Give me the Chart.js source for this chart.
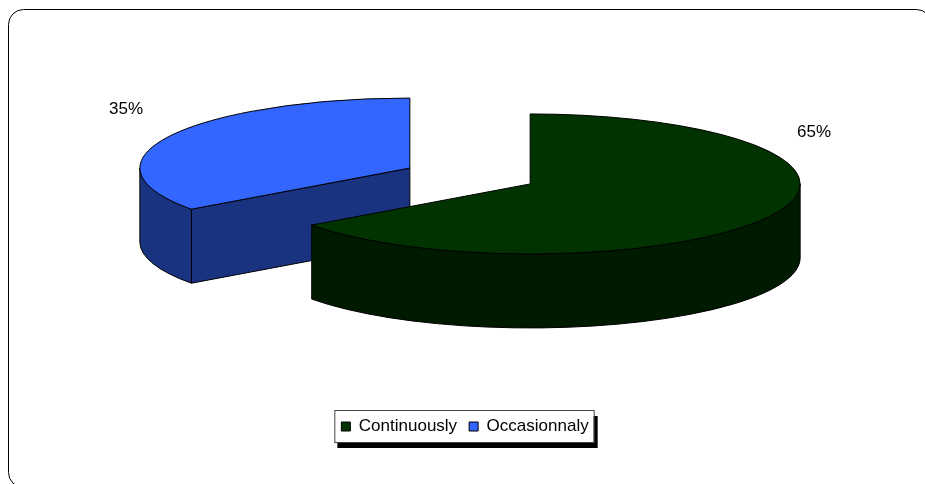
<!DOCTYPE html>
<html>
<head>
<meta charset="utf-8">
<title>Continuously / Occasionnaly</title>
<script src="https://cdn.jsdelivr.net/npm/chart.js@4.4.0/dist/chart.umd.min.js"></script>
<style>
    html, body { margin: 0; padding: 0; background: #fff; }
    #wrap { position: relative; width: 925px; height: 484px; }
</style>
</head>
<body>
<div id="wrap"><canvas id="pieChart"></canvas></div>
<script>
// Chart data
const categories = ['Continuously', 'Occasionnaly'];
const shares = [65, 35];
const topColors = ['#003300', '#3366FF'];
const sideColors = ['#001A00', '#1A3380'];

const FONT = '"Liberation Sans", Arial, sans-serif';

// Angles of the front half of the disc (the part of the rim we can see)
function frontRanges(a0, a1) {
    const out = [];
    [-2, 0, 2].forEach(k => {
        const lo = Math.max(a0, k * Math.PI);
        const hi = Math.min(a1, k * Math.PI + Math.PI);
        if (hi > lo) out.push([lo, hi]);
    });
    return out;
}

// Draws the exploded pie as a tilted 3D disc, using the arcs Chart.js laid out
const pie3d = {
    id: 'pie3d',
    beforeDatasetsDraw(chart, args, opts) {
        const ctx = chart.ctx;
        const meta = chart.getDatasetMeta(0);
        const values = chart.data.datasets[0].data;
        const total = values.reduce((a, b) => a + b, 0);
        const { rx, ry, depth } = opts;

        const slices = meta.data.map((arc, i) => {
            const p = arc.getProps(['x', 'y', 'startAngle', 'endAngle', 'outerRadius']);
            const mid = (p.startAngle + p.endAngle) / 2;
            const off = (arc.options.offset || 0) / 4;
            return {
                i: i,
                mid: mid,
                a0: p.startAngle,
                a1: p.endAngle,
                cx: p.x + opts.shiftX + Math.cos(mid) * off * rx / p.outerRadius,
                cy: p.y + opts.shiftY + Math.sin(mid) * off * ry / p.outerRadius
            };
        });

        const pt = (s, t, dz) => [s.cx + rx * Math.cos(t), s.cy + ry * Math.sin(t) + dz];

        function face(s, t) {
            const p = pt(s, t, 0);
            ctx.beginPath();
            ctx.moveTo(s.cx, s.cy);
            ctx.lineTo(p[0], p[1]);
            ctx.lineTo(p[0], p[1] + depth);
            ctx.lineTo(s.cx, s.cy + depth);
            ctx.closePath();
            ctx.fillStyle = sideColors[s.i];
            ctx.fill();
            ctx.stroke();
        }

        function wall(s, lo, hi) {
            const e = pt(s, hi, depth);
            ctx.beginPath();
            ctx.ellipse(s.cx, s.cy, rx, ry, 0, lo, hi);
            ctx.lineTo(e[0], e[1]);
            ctx.ellipse(s.cx, s.cy + depth, rx, ry, 0, hi, lo, true);
            ctx.closePath();
            ctx.fillStyle = sideColors[s.i];
            ctx.fill();
            ctx.stroke();
        }

        function lid(s) {
            ctx.beginPath();
            ctx.moveTo(s.cx, s.cy);
            ctx.ellipse(s.cx, s.cy, rx, ry, 0, s.a0, s.a1);
            ctx.closePath();
            ctx.fillStyle = topColors[s.i];
            ctx.fill();
            ctx.stroke();
        }

        ctx.save();
        ctx.lineWidth = 1;
        ctx.strokeStyle = '#000';
        ctx.lineJoin = 'round';

        // back slices first
        [...slices].sort((a, b) => a.cy - b.cy).forEach(s => {
            if (Math.cos(s.a0) < -1e-6) face(s, s.a0);
            if (Math.cos(s.a1) > 1e-6) face(s, s.a1);
            frontRanges(s.a0, s.a1).forEach(r => wall(s, r[0], r[1]));
            lid(s);
        });

        // percentage labels
        ctx.fillStyle = '#000';
        ctx.font = '17px ' + FONT;
        ctx.textAlign = 'center';
        ctx.textBaseline = 'middle';
        slices.forEach(s => {
            const pct = Math.round(values[s.i] / total * 100) + '%';
            const x = s.cx + Math.cos(s.mid) * rx * 1.18;
            const y = s.cy - ry * 0.79 + Math.sin(s.mid) * ry * 0.11;
            ctx.fillText(pct, x, y);
        });
        ctx.restore();
        return false;
    }
};

// Outer frame and the framed legend box with its drop shadow
const frames = {
    id: 'frames',
    beforeDraw(chart) {
        const ctx = chart.ctx;
        ctx.save();
        ctx.strokeStyle = '#000';
        ctx.lineWidth = 1;
        ctx.beginPath();
        ctx.roundRect(8.5, 9.5, 923, 478, 15);
        ctx.stroke();

        const boxes = chart.legend.legendHitBoxes;
        if (boxes && boxes.length) {
            const left = Math.min(...boxes.map(b => b.left)) - 7;
            const right = Math.max(...boxes.map(b => b.left + b.width)) + 5;
            const top = boxes[0].top - 8;
            const bottom = boxes[0].top + boxes[0].height + 7;
            ctx.fillStyle = '#000';
            ctx.fillRect(left + 3, top + 6, right - left + 1, bottom - top);
            ctx.fillStyle = '#fff';
            ctx.fillRect(left, top, right - left, bottom - top);
            ctx.strokeStyle = '#444';
            ctx.strokeRect(left + 0.5, top + 0.5, right - left, bottom - top);
        }
        ctx.restore();
    }
};

new Chart(document.getElementById('pieChart'), {
    type: 'pie',
    data: {
        labels: categories,
        datasets: [{
            data: shares,
            backgroundColor: topColors,
            borderColor: '#000',
            borderWidth: 1,
            radius: 100,
            offset: 100
        }]
    },
    options: {
        responsive: true,
        maintainAspectRatio: false,
        animation: false,
        devicePixelRatio: 1,
        layout: {
            padding: { left: 5, right: 0, top: 0, bottom: 39 }
        },
        plugins: {
            tooltip: { enabled: false },
            legend: {
                position: 'bottom',
                labels: {
                    boxWidth: 9,
                    boxHeight: 9,
                    padding: 12,
                    color: '#000',
                    font: { size: 17, family: FONT }
                }
            },
            pie3d: { rx: 270, ry: 70, depth: 74, shiftX: 5, shiftY: -27 }
        }
    },
    plugins: [frames, pie3d]
});
</script>
</body>
</html>
